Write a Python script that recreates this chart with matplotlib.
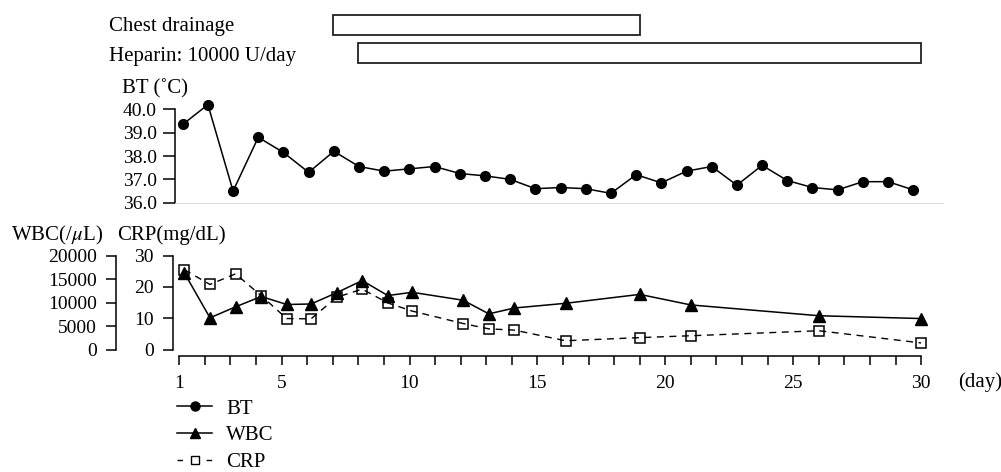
import numpy as np
import matplotlib
matplotlib.use("Agg")
import matplotlib.pyplot as plt

# ---- data ----
bt_day = np.arange(1, 31)
bt = [39.35, 40.2, 36.5, 38.8, 38.15, 37.3, 38.2, 37.55, 37.35, 37.45,
      37.55, 37.25, 37.15, 37.0, 36.6, 36.65, 36.6, 36.4, 37.2, 36.85,
      37.35, 37.55, 36.75, 37.6, 36.95, 36.65, 36.55, 36.9, 36.9, 36.55]

lab_day = [1.2, 2.2, 3.2, 4.2, 5.2, 6.15, 7.15, 8.15, 9.15, 10.1,
           12.1, 13.1, 14.1, 16.1, 19, 21, 26, 30]
wbc = [16300, 6750, 9100, 11300, 9600, 9700, 12100, 14700, 11500, 12200,
       10500, 7600, 8850, 9850, 11750, 9500, 7200, 6600]
crp = [25.5, 20.8, 24.2, 17.2, 9.9, 9.8, 16.7, 19.3, 14.9, 12.3,
       8.3, 6.6, 6.2, 2.8, 3.8, 4.4, 6.0, 2.1]

treatments = ["Chest drainage", "Heparin: 10000 U/day"]
treat_start = [7, 8]
treat_end = [19, 30]

x_labels = [1, 5, 10, 15, 20, 25, 30]

W, H = 1001, 472
plt.rcParams["font.family"] = ["Liberation Serif", "DejaVu Serif"]
plt.rcParams["mathtext.fontset"] = "stix"
FS = 15     # labels
TFS = 14    # tick labels


def fx(px):
    return px / W


def fy(py):
    return 1 - py / H


fig = plt.figure(figsize=(W / 100, H / 100), dpi=100)

# ---- treatment bars ----
axb = fig.add_axes([fx(173), fy(70), fx(943 - 173), 70 / H])
axb.set_xlim(1 - (179.3 - 173) / 25.58, 1 + (943 - 179.3) / 25.58)
axb.set_ylim(70, 0)
axb.axis("off")
bar_y = [24.7, 52.85]
bar_h = [20, 20.3]
for s, e, y, h in zip(treat_start, treat_end, bar_y, bar_h):
    axb.barh(y, e - s, left=s, height=h, color="white",
             edgecolor="#222222", linewidth=1.3)
fig.text(fx(109), fy(26.5), treatments[0], fontsize=FS, va="center")
fig.text(fx(109), fy(56), treatments[1], fontsize=FS, va="center")

# ---- body temperature ----
axt = fig.add_axes([fx(175), fy(202.7), fx(943 - 175), 93.4 / H])
axt.plot(bt_day, bt, "k-o", lw=1.1, ms=7, clip_on=False)
axt.set_xlim(1 - 7.7 / 25.19, 1 + (943 - 182.7) / 25.19)
axt.set_ylim(36, 40)
axt.set_yticks([36, 37, 38, 39, 40])
axt.set_yticklabels(["%.1f" % v for v in [36, 37, 38, 39, 40]])
axt.set_xticks([])
for s in ["top", "right"]:
    axt.spines[s].set_visible(False)
axt.spines["bottom"].set_color("#dddddd")
axt.spines["left"].set_linewidth(1.1)
axt.tick_params(axis="y", length=8.4, width=1.1, pad=4.8, labelsize=TFS)
fig.text(fx(121.5), fy(89), "BT (˚C)", fontsize=FS, va="center")

# ---- WBC / CRP ----
ax = fig.add_axes([fx(173), fy(349.5), fx(943 - 173), (349.5 - 255.7) / H])
ax2 = ax.twinx()
ax.plot(lab_day, crp, color="k", ls=(0, (5, 4)), lw=1.0, marker="s", ms=7,
        mfc="none", mec="k", mew=1.1, clip_on=False, zorder=2)
ax2.plot(lab_day, wbc, "k-^", lw=1.1, ms=8, clip_on=False, zorder=3)
ax.set_xlim(1 - (179.3 - 173) / 25.58, 1 + (943 - 179.3) / 25.58)
ax.set_ylim(0, 30)
ax2.set_ylim(0, 20000)
ax.set_yticks([0, 10, 20, 30])
ax2.set_yticks([0, 5000, 10000, 15000, 20000])
ax.set_xticks(range(1, 31))
ax.set_xticklabels([str(d) if d in x_labels else "" for d in range(1, 31)])
for s in ["top", "right"]:
    ax.spines[s].set_visible(False)
for s in ["top", "right", "bottom"]:
    ax2.spines[s].set_visible(False)
ax.spines["bottom"].set_position(("outward", 4.6))
ax.spines["bottom"].set_bounds(1, 30)
ax2.spines["left"].set_visible(True)
ax2.spines["left"].set_position(("outward", 41))
ax2.yaxis.set_ticks_position("left")
ax2.yaxis.set_label_position("left")
for a in (ax, ax2):
    for sp in a.spines.values():
        sp.set_linewidth(1.1)
ax.tick_params(axis="y", length=7.5, width=1.1, pad=6.5, labelsize=TFS)
ax2.tick_params(axis="y", length=7.5, width=1.1, pad=6.5, labelsize=TFS)
ax.tick_params(axis="x", length=6.7, width=1.1, pad=7, labelsize=TFS)
fig.text(fx(11), fy(235), r"WBC(/$\mu$L)", fontsize=FS, va="center")
fig.text(fx(117), fy(235), "CRP(mg/dL)", fontsize=FS, va="center")
fig.text(fx(958), fy(382), "(day)", fontsize=FS, va="center")

# ---- legend ----
h_bt, = ax.plot([], [], "k-o", lw=1.1, ms=6.5)
h_wbc, = ax.plot([], [], "k-^", lw=1.1, ms=7)
h_crp, = ax.plot([], [], color="k", ls=(0, (4, 17)), lw=1.0, marker="s",
                 ms=6, mfc="none", mec="k")
fig.legend([h_bt, h_wbc, h_crp], ["BT", "WBC", "CRP"], loc="upper left",
           bbox_to_anchor=(fx(173), fy(395)), frameon=False, fontsize=FS,
           handlelength=1.68, handletextpad=0.67, labelspacing=0.34,
           borderaxespad=0, borderpad=0.2)

fig.savefig("out.png", dpi=100)
